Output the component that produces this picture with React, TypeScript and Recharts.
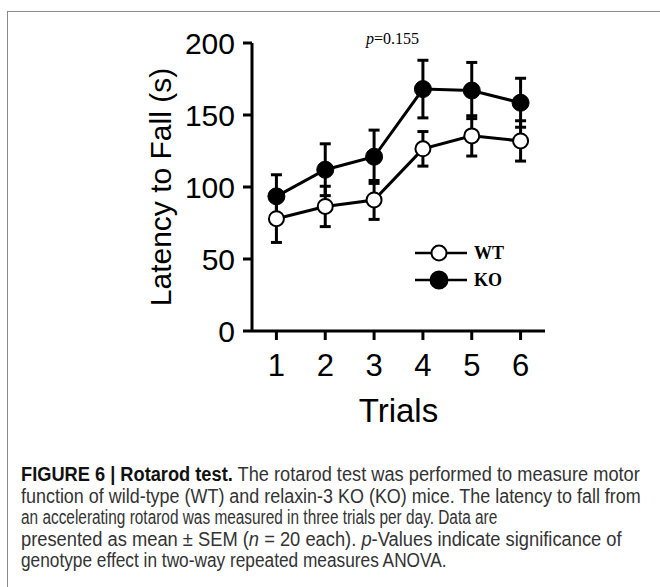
import { useLayoutEffect, useRef, useState } from 'react';
import { LineChart, Line, XAxis, YAxis, ErrorBar } from 'recharts';

const trials = [1, 2, 3, 4, 5, 6];
const wtMean = [78, 86.5, 91, 126.5, 135.5, 132];
const wtSem = [16.5, 14, 13.5, 12, 14, 14];
const koMean = [93.5, 112, 121, 168, 167, 158.5];
const koSem = [15, 18, 18.5, 20, 19.5, 17];
const yTicks = [0, 50, 100, 150, 200];
const seriesNames = ['WT', 'KO'];

const data = trials.map((t, i) => ({
  trial: t,
  WT: wtMean[i],
  wtErr: wtSem[i],
  KO: koMean[i],
  koErr: koSem[i],
}));

// target widths of the caption lines (reference font is condensed)
const captionWidths = [619, 620, 476, 601, 426];

const sans = '"Liberation Sans", Arial, sans-serif';
const serif = '"Liberation Serif", "Times New Roman", serif';

function YLabel({ viewBox }: any) {
  const cx = viewBox.x + 171;
  const cy = viewBox.y + viewBox.height / 2;
  return (
    <text x={cx} y={cy} transform={`rotate(-90 ${cx} ${cy})`} textAnchor="middle"
      fontFamily={sans} fontSize={30} fill="#000">
      Latency to Fall (s)
    </text>
  );
}

function XLabel({ viewBox }: any) {
  return (
    <text x={viewBox.x + viewBox.width / 2} y={viewBox.y + 91} textAnchor="middle"
      fontFamily={sans} fontSize={33} fill="#000">
      Trials
    </text>
  );
}

// legend drawn on its own so it doesn't eat plot space
function LegendBox() {
  return (
    <svg width={110} height={60} style={{ position: 'absolute', left: 413, top: 240 }}>
      {seriesNames.map((name, i) => {
        const y = 13 + i * 27;
        const open = name === 'WT';
        return (
          <g key={name}>
            <line x1={2} x2={54} y1={y} y2={y} stroke="#000" strokeWidth={2.5} />
            <circle cx={26} cy={y} r={open ? 7.5 : 8.5} fill={open ? '#fff' : '#000'} stroke="#000" strokeWidth={2} />
            <text x={61} y={y + 6} fontFamily={serif} fontWeight="bold" fontSize={18} fill="#000">{name}</text>
          </g>
        );
      })}
    </svg>
  );
}

function Caption() {
  const refs = useRef<(HTMLSpanElement | null)[]>([]);
  const [scales, setScales] = useState<number[]>(captionWidths.map(() => 1));

  useLayoutEffect(() => {
    setScales(refs.current.map((el, i) => (el && el.offsetWidth ? captionWidths[i] / el.offsetWidth : 1)));
  }, []);

  const lines = [
    <><b style={{ color: '#111' }}>FIGURE 6 | Rotarod test.</b> The rotarod test was performed to measure motor</>,
    <>function of wild-type (WT) and relaxin-3 KO (KO) mice. The latency to fall from</>,
    <>an accelerating rotarod was measured in three trials per day. Data are</>,
    <>presented as mean ± SEM (<i>n</i> = 20 each). <i>p</i>-Values indicate significance of</>,
    <>genotype effect in two-way repeated measures ANOVA.</>,
  ];

  return (
    <div style={{ position: 'absolute', left: 21, top: 464, fontFamily: sans, fontSize: 19.5, lineHeight: '21.5px', color: '#333', whiteSpace: 'nowrap' }}>
      {lines.map((content, i) => (
        <div key={i} style={{ height: 21.5 }}>
          <span ref={(el) => { refs.current[i] = el; }}
            style={{ display: 'inline-block', transformOrigin: '0 0', transform: `scaleX(${scales[i]})` }}>
            {content}
          </span>
        </div>
      ))}
    </div>
  );
}

export default function App() {
  return (
    <div style={{ position: 'absolute', left: 0, top: 0, width: 660, height: 587, background: '#fff', overflow: 'hidden' }}>
      <div style={{ position: 'absolute', left: 7, top: 11, width: 660, height: 590, borderLeft: '1.5px solid #8a8a8a', borderTop: '1.5px solid #8a8a8a' }} />
      <div style={{ position: 'absolute', left: 0, top: 0 }}>
        <LineChart width={660} height={440} data={data} margin={{ top: 43, right: 115, bottom: 0, left: 0 }}>
          <XAxis dataKey="trial" type="number" domain={[0.5, 6.5]} ticks={trials}
            height={109} tickSize={9} tickMargin={14}
            axisLine={{ stroke: '#000', strokeWidth: 3 }} tickLine={{ stroke: '#000', strokeWidth: 3 }}
            tick={{ fill: '#000', fontSize: 31, fontFamily: sans }}
            label={XLabel} />
          <YAxis type="number" domain={[0, 200]} ticks={yTicks} width={252}
            tickSize={9} tickMargin={8}
            axisLine={{ stroke: '#000', strokeWidth: 3 }} tickLine={{ stroke: '#000', strokeWidth: 3 }}
            tick={{ fill: '#000', fontSize: 30, fontFamily: sans }}
            label={YLabel} />
          <Line type="linear" dataKey="WT" name="WT" stroke="#000" strokeWidth={3} isAnimationActive={false}
            dot={{ r: 7.5, fill: '#fff', stroke: '#000', strokeWidth: 2 }} activeDot={false}>
            <ErrorBar dataKey="wtErr" direction="y" width={5.5} stroke="#000" strokeWidth={3} isAnimationActive={false} />
          </Line>
          <Line type="linear" dataKey="KO" name="KO" stroke="#000" strokeWidth={3} isAnimationActive={false}
            dot={{ r: 8.5, fill: '#000', stroke: '#000', strokeWidth: 1 }} activeDot={false}>
            <ErrorBar dataKey="koErr" direction="y" width={5.5} stroke="#000" strokeWidth={3} isAnimationActive={false} />
          </Line>
        </LineChart>
      </div>
      <LegendBox />
      <div style={{ position: 'absolute', left: 366, top: 30, fontFamily: serif, fontSize: 16, lineHeight: '18px', color: '#000', whiteSpace: 'nowrap' }}>
        <i>p</i>=0.155
      </div>
      <Caption />
    </div>
  );
}
